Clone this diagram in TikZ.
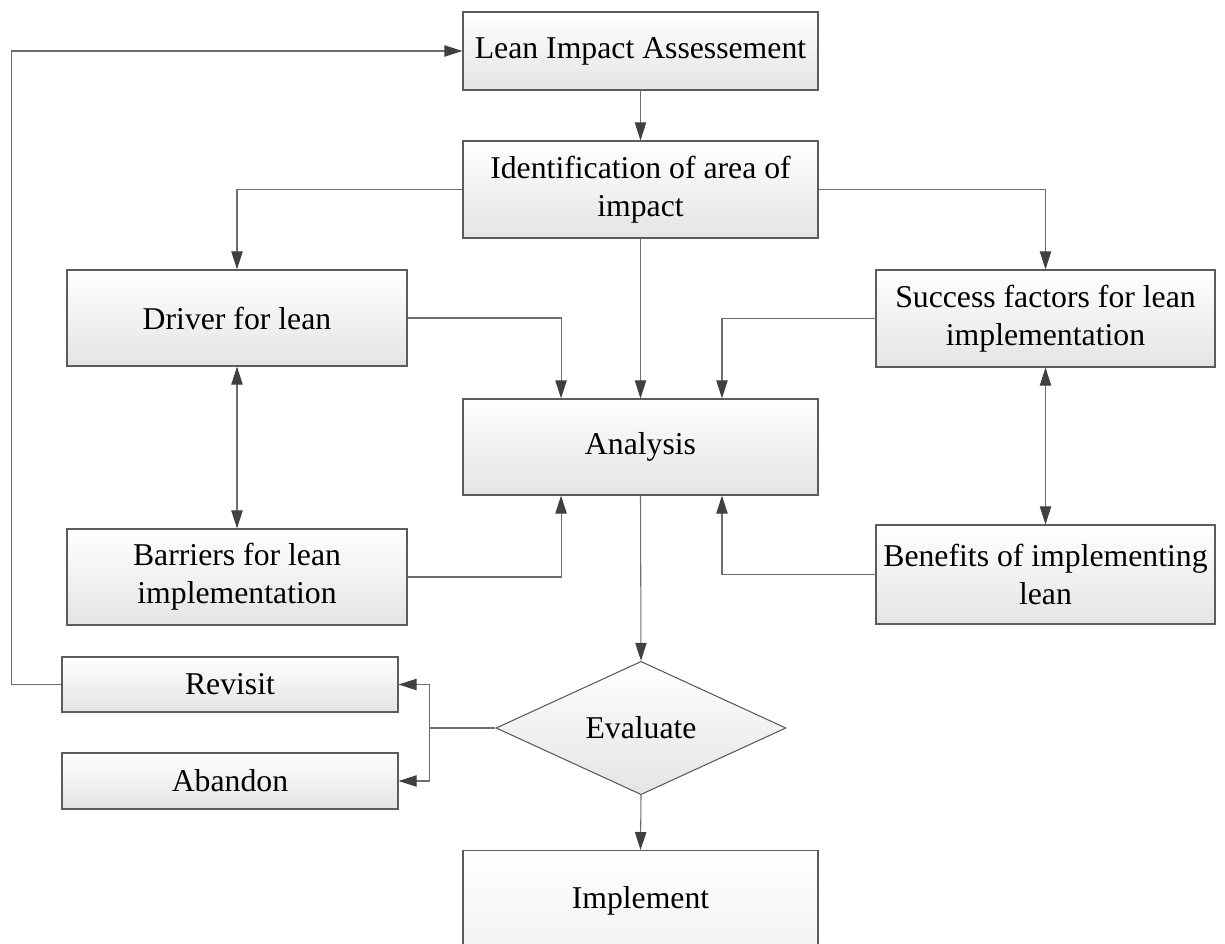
\documentclass[tikz,border=0pt]{standalone}
\usepackage{fontspec}
\setmainfont{Liberation Serif}
\usetikzlibrary{arrows.meta,shapes.geometric}
\definecolor{edgegray}{HTML}{5C5C5C}
\definecolor{linegray}{HTML}{6E6E6E}
\definecolor{tipgray}{HTML}{404040}
\definecolor{shadebottom}{HTML}{E4E4E4}
\tikzset{
  box/.style={draw=edgegray, line width=0.9pt, rectangle, inner sep=0pt,
    top color=white, bottom color=shadebottom, align=center,
    font=\fontsize{23.8}{28.5}\selectfont},
  decision/.style={draw=edgegray, line width=0.8pt, diamond, inner sep=0pt,
    top color=white, bottom color=shadebottom,
    minimum width=217.5pt, minimum height=96pt,
    font=\fontsize{23.8}{28.5}\selectfont},
  link/.style={draw=linegray, line width=0.8pt},
  arr/.style={link, -{Triangle[length=13.5pt,width=8.5pt,color=tipgray]}},
  biarr/.style={link, {Triangle[length=13.5pt,width=8.5pt,color=tipgray]}-{Triangle[length=13.5pt,width=8.5pt,color=tipgray]}},
}
\begin{document}
\begin{tikzpicture}[x=0.75pt,y=-0.75pt]
  \useasboundingbox (0,0) rectangle (1225,943);
  \clip (-1,-1) rectangle (1226,943);

  % main column
  \node[box, minimum width=266.25pt, minimum height=58.5pt] (lia) at (640.5,51) {Lean Impact Assessement};
  \node[box, minimum width=266.25pt, minimum height=72.75pt] (ident) at (640.5,189.5) {Identification of area of\\impact};
  \node[box, minimum width=266.25pt, minimum height=72pt] (analysis) at (640.5,447) {Analysis};
  \node[decision] (eval) at (641,728) {Evaluate};
  % last box runs past the lower edge of the page
  \node[box, minimum width=266.25pt, anchor=north, text height=43.5pt, text depth=120pt] (impl) at (640.5,850) {Implement};

  % left column
  \node[box, minimum width=255pt, minimum height=72pt] (driver) at (237,318) {Driver for lean};
  \node[box, minimum width=255pt, minimum height=72pt] (barriers) at (237,577) {Barriers for lean\\implementation};
  \node[box, minimum width=252pt, minimum height=41.25pt] (revisit) at (230,684.5) {Revisit};
  \node[box, minimum width=252pt, minimum height=42pt] (abandon) at (230,781) {Abandon};

  % right column
  \node[box, minimum width=254.25pt, minimum height=72.75pt] (success) at (1045.5,318.5) {Success factors for lean\\implementation};
  \node[box, minimum width=254.25pt, minimum height=74.25pt] (benefits) at (1045.5,574.5) {Benefits of implementing\\lean};

  % flow
  \draw[arr] (lia.south) -- (ident.north);
  \draw[arr] (ident.south) -- (analysis.north);
  \draw[arr] (ident.west) -| (driver.north);
  \draw[arr] (ident.east) -| (success.north);
  \draw[biarr] (driver.south) -- (barriers.north);
  \draw[biarr] (success.south) -- (benefits.north);
  \draw[arr] (driver.east) -| ([xshift=-59.6pt]analysis.north);
  \draw[arr] (success.west) -| ([xshift=61.1pt]analysis.north);
  \draw[arr] (barriers.east) -| ([xshift=-59.6pt]analysis.south);
  \draw[arr] (benefits.west) -| ([xshift=61.1pt]analysis.south);
  \draw[arr] (analysis.south) -- (eval.north);
  \draw[arr] (eval.south) -- (impl.north);

  % decision outcomes
  \draw[link] (eval.west) -- ++(-66,0) coordinate (fork);
  \draw[arr] (fork) |- (revisit.east);
  \draw[arr] (fork) |- (abandon.east);
  \draw[arr] (revisit.west) -- ++(-50,0) |- (lia.west);
\end{tikzpicture}
\end{document}
